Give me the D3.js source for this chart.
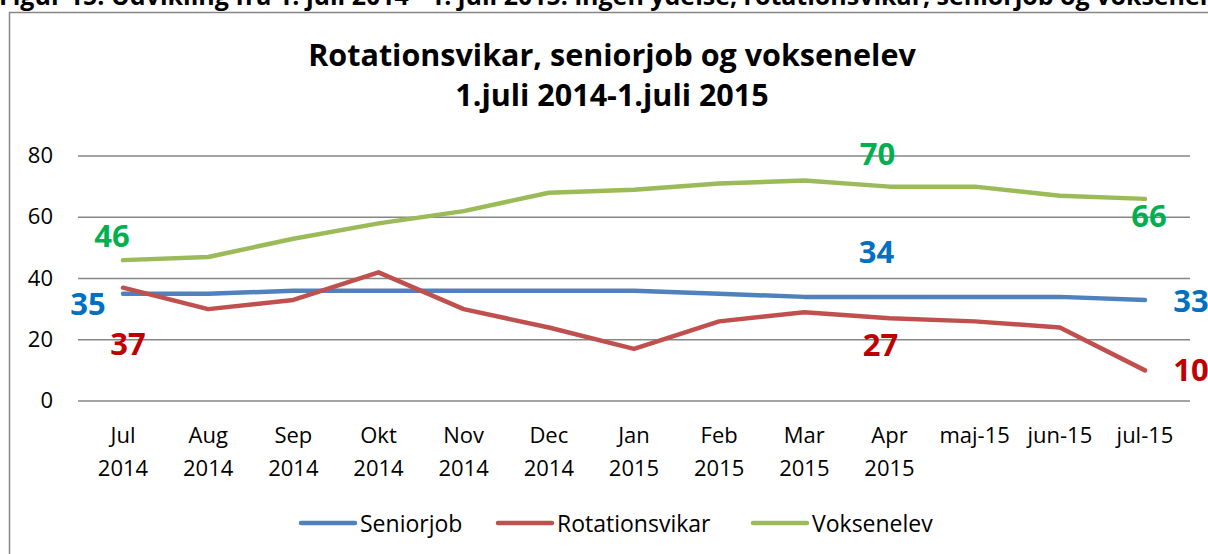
<!DOCTYPE html>
<html>
<head>
<meta charset="utf-8">
<script src="https://cdn.jsdelivr.net/npm/d3@7"></script>
<style>
  body { margin: 0; background: #fff; }
  svg { display: block; font-family: "Open Sans", Lato, sans-serif; }
</style>
</head>
<body>
<script>
// data
var months = ['Jul|2014', 'Aug|2014', 'Sep|2014', 'Okt|2014', 'Nov|2014', 'Dec|2014',
  'Jan|2015', 'Feb|2015', 'Mar|2015', 'Apr|2015', 'maj-15', 'jun-15', 'jul-15'];
var seniorjob = [35, 35, 36, 36, 36, 36, 36, 35, 34, 34, 34, 34, 33];
var rotationsvikar = [37, 30, 33, 42, 30, 24, 17, 26, 29, 27, 26, 24, 10];
var voksenelev = [46, 47, 53, 58, 62, 68, 69, 71, 72, 70, 70, 67, 66];
var yTicks = [0, 20, 40, 60, 80];

// which points carry a value label, and where the label sits relative to the point
var series = [
  { name: 'Seniorjob', values: seniorjob, color: '#4f81bd', label: '#0070c0',
    marks: [{ i: 0, dx: -35, dy: 21 }, { i: 9, dx: -13, dy: -34 }, { i: 12, dx: 46, dy: 12 }] },
  { name: 'Rotationsvikar', values: rotationsvikar, color: '#c0504d', label: '#c00000',
    marks: [{ i: 0, dx: 5, dy: 67 }, { i: 9, dx: -9, dy: 38 }, { i: 12, dx: 46, dy: 11 }] },
  { name: 'Voksenelev', values: voksenelev, color: '#9bbb59', label: '#00b050',
    marks: [{ i: 0, dx: -11, dy: -13 }, { i: 9, dx: -12, dy: -22 }, { i: 12, dx: 4, dy: 28 }] }
];

var width = 1208, height = 554;

var svg = d3.select('body')
  .append('svg')
  .attr('width', width)
  .attr('height', height);

// caption above the chart box (cut off by the page edge)
svg.append('text')
  .attr('x', -1)
  .attr('y', 5)
  .attr('font-size', 25)
  .attr('font-weight', 'bold')
  .text('Figur 15: Udvikling fra 1. juli 2014 - 1. juli 2015: ingen ydelse, rotationsvikar, seniorjob og voksenelev');

// chart box
svg.append('rect')
  .attr('x', 9.5)
  .attr('y', 12.5)
  .attr('width', 1220)
  .attr('height', 560)
  .attr('fill', '#fff')
  .attr('stroke', '#868686')
  .attr('stroke-width', 1.5);

// title
svg.append('text')
  .attr('text-anchor', 'middle')
  .attr('font-size', 30.5)
  .attr('font-weight', 'bold')
  .selectAll('tspan')
  .data(['Rotationsvikar, seniorjob og voksenelev', '1.juli 2014-1.juli 2015'])
  .enter()
    .append('tspan')
      .attr('x', 612)
      .attr('y', function(d, i){ return 66 + i * 40; })
      .text(function(d){ return d; });

var x = d3.scalePoint()
  .domain(d3.range(months.length))
  .range([123, 1145]);

var y = d3.scaleLinear()
  .domain([0, 80])
  .range([401, 156]);

// grid
svg.append('g')
  .selectAll('line')
  .data(yTicks)
  .enter()
    .append('line')
      .attr('x1', 78)
      .attr('x2', 1190)
      .attr('y1', function(d){ return y(d); })
      .attr('y2', function(d){ return y(d); })
      .attr('stroke', '#868686')
      .attr('stroke-width', 1.5);

// y labels
svg.append('g')
  .selectAll('text')
  .data(yTicks)
  .enter()
    .append('text')
      .attr('x', 53)
      .attr('y', function(d){ return y(d) + 7; })
      .attr('text-anchor', 'end')
      .attr('font-size', 22)
      .text(function(d){ return d; });

// x labels
svg.append('g')
  .selectAll('text')
  .data(months)
  .enter()
    .append('text')
      .attr('text-anchor', 'middle')
      .attr('font-size', 22)
      .each(function(d, i){
        var parts = d.split('|');
        d3.select(this).selectAll('tspan')
          .data(parts)
          .enter()
            .append('tspan')
              .attr('x', x(i))
              .attr('y', function(p, j){ return 443 + j * 33; })
              .text(function(p){ return p; });
      });

var line = d3.line()
  .x(function(d, i){ return x(i); })
  .y(function(d){ return y(d); });

// lines
svg.append('g')
  .selectAll('path')
  .data(series)
  .enter()
    .append('path')
      .attr('d', function(d){ return line(d.values); })
      .attr('fill', 'none')
      .attr('stroke', function(d){ return d.color; })
      .attr('stroke-width', 4.5)
      .attr('stroke-linecap', 'round')
      .attr('stroke-linejoin', 'round');

// data labels
series.forEach(function(s){
  svg.append('g')
    .selectAll('text')
    .data(s.marks)
    .enter()
      .append('text')
        .attr('x', function(m){ return x(m.i) + m.dx; })
        .attr('y', function(m){ return y(s.values[m.i]) + m.dy; })
        .attr('text-anchor', 'middle')
        .attr('font-size', 31)
        .attr('font-weight', 'bold')
        .attr('fill', s.label)
        .text(function(m){ return s.values[m.i]; });
});

// legend
var legendX = [301, 498, 753];
var legend = svg.append('g')
  .selectAll('g')
  .data(series)
  .enter()
    .append('g')
      .attr('transform', function(d, i){ return 'translate(' + legendX[i] + ',523)'; });

legend.append('line')
  .attr('x1', 0)
  .attr('x2', 54)
  .attr('stroke', function(d){ return d.color; })
  .attr('stroke-width', 4.5)
  .attr('stroke-linecap', 'round');

legend.append('text')
  .attr('x', 59)
  .attr('y', 9)
  .attr('font-size', 23)
  .text(function(d){ return d.name; });
</script>
</body>
</html>
